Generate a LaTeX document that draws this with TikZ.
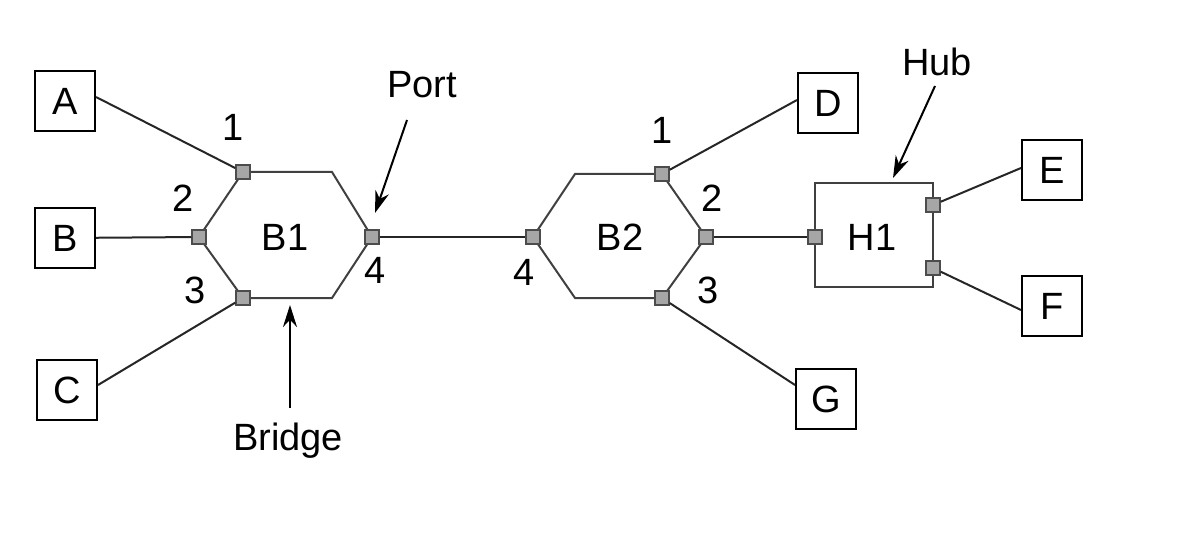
\documentclass[tikz,border=0pt]{standalone}
\usepackage{fontspec}
\setmainfont{Liberation Sans}
\usetikzlibrary{arrows.meta}
\begin{document}
\begin{tikzpicture}[x=1pt,y=-1pt,
  every node/.style={font=\fontsize{38}{44}\selectfont},
  term/.style={draw=black,line width=2pt,minimum size=60pt,inner sep=0pt,fill=white},
  port/.style={draw=black!70,fill=black!35,line width=1.5pt,minimum size=14pt,inner sep=0pt},
  wire/.style={draw=black!85,line width=2pt},
  outline/.style={draw=black!75,line width=2pt},
  pointer/.style={draw=black,line width=2pt,-{Stealth[length=22pt,width=14pt]}},
  lbl/.style={inner sep=0pt}]
\useasboundingbox (0,0) rectangle (1186,540);
% hexagons and hub
\draw[outline] (243,172)--(332,172)--(372,237)--(332,298)--(243,298)--(199,237)--cycle;
\draw[outline] (575,174)--(662,174)--(706,237)--(662,298)--(575,298)--(533,237)--cycle;
\draw[outline] (815,183) rectangle (933,287);
\node (b1) at (285,237) {B1};
\node (b2) at (620,237) {B2};
\node (h1) at (872,237) {H1};
% ports
\node[port] (p11) at (243,172) {};
\node[port] (p12) at (199,237) {};
\node[port] (p13) at (243,298) {};
\node[port] (p14) at (372,237) {};
\node[port] (p21) at (662,174) {};
\node[port] (p22) at (706,237) {};
\node[port] (p23) at (662,298) {};
\node[port] (p24) at (533,237) {};
\node[port] (ph1) at (815,237) {};
\node[port] (ph2) at (933,205) {};
\node[port] (ph3) at (933,268) {};
% terminals
\node[term] (A) at (65,101) {A};
\node[term] (B) at (65,238) {B};
\node[term] (C) at (67,390) {C};
\node[term] (D) at (828,103) {D};
\node[term] (E) at (1052,170) {E};
\node[term] (F) at (1052,306) {F};
\node[term] (G) at (826,399) {G};
% wires
\draw[wire] (A.east |- 0,97) -- (p11);
\draw[wire] (B) -- (p12);
\draw[wire] (C.east |- 0,385) -- (p13);
\draw[wire] (p14) -- (p24);
\draw[wire] (D.west |- 0,100) -- (p21);
\draw[wire] (G.west |- 0,385) -- (p23);
\draw[wire] (p22) -- (ph1);
\draw[wire] (E.west |- 0,168) -- (ph2);
\draw[wire] (F.west |- 0,310) -- (ph3);
% port numbers
\node[lbl] (n11) at (233,127) {1};
\node[lbl] (n12) at (183,198) {2};
\node[lbl] (n13) at (195,290) {3};
\node[lbl] (n14) at (375,270) {4};
\node[lbl] (n21) at (662,130) {1};
\node[lbl] (n22) at (712,198) {2};
\node[lbl] (n23) at (708,290) {3};
\node[lbl] (n24) at (524,272) {4};
% annotations
\node (port) at (422,85) {Port};
\node (hub) at (937,62) {Hub};
\node (bridge) at (288,441) {Bridge};
\coordinate (portT) at (375,213);
\coordinate (hubT) at (893,178);
\coordinate (bridgeT) at (290,305);
\draw[pointer] (407,120) -- (portT);
\draw[pointer] (935,86) -- (hubT);
\draw[pointer] (290,408) -- (bridgeT);
\end{tikzpicture}
\end{document}
